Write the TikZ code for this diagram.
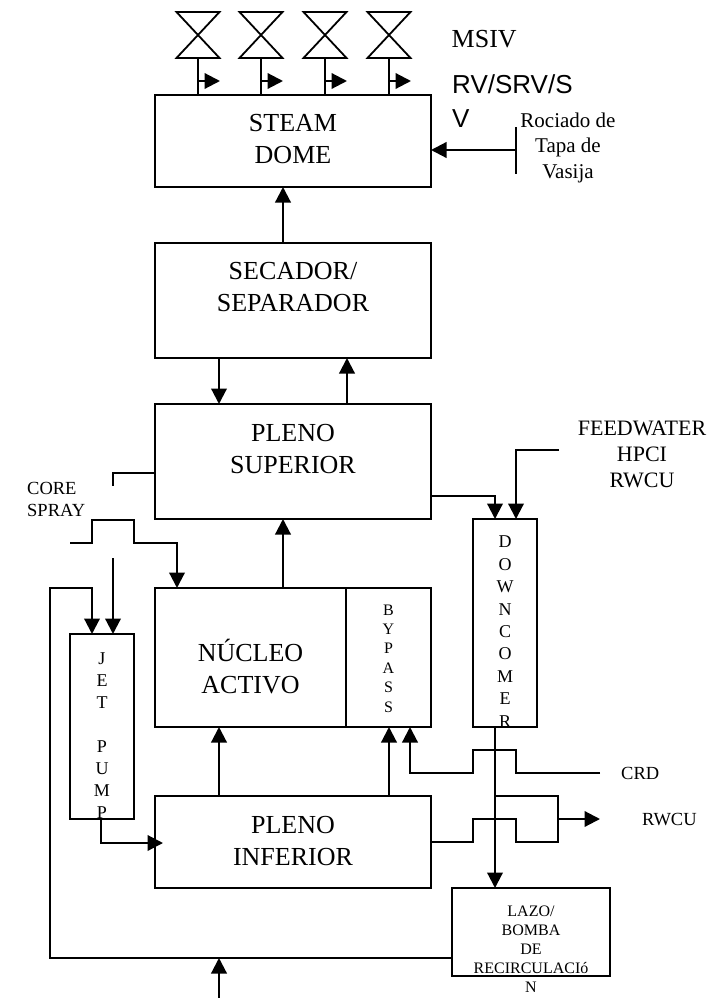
\documentclass[tikz,border=0pt]{standalone}
\usepackage{fontspec}
\setmainfont{Liberation Serif}
\newfontfamily\arialfont{Liberation Sans}
\usetikzlibrary{arrows.meta}
\newcommand{\blocktext}[2]{\raisebox{#1pt}[0pt][0pt]{\begin{tabular}[b]{@{}c@{}}#2\end{tabular}}}
\newcommand{\fs}[2]{\fontsize{#1}{#2}\selectfont}
\tikzset{
  blockbox/.style={draw,rectangle,inner sep=0pt,outer sep=0pt,line width=1.9pt,font=\fs{26}{32}},
  label26/.style={inner sep=0pt,anchor=base west,font=\fs{26}{32}},
  smalllabel/.style={inner sep=0pt,anchor=base west,font=\fs{18.5}{22}},
  flow/.style={line width=2.2pt},
  flowarrow/.style={line width=2.2pt,-{Triangle[length=15.5pt,width=15.5pt]}},
  valve/.style={line width=1.8pt,line join=miter},
}
\begin{document}
\begin{tikzpicture}[x=1pt,y=-1pt]
\useasboundingbox (0,0) rectangle (716,998);
% blocks
\node[blockbox,minimum width=276pt,minimum height=92pt] (dome) at (293,141) {\blocktext{-22}{STEAM\\DOME}};
\node[blockbox,minimum width=276pt,minimum height=115pt] (secador) at (293,300.5) {\blocktext{-10.5}{SECADOR/\\SEPARADOR}};
\node[blockbox,minimum width=276pt,minimum height=115pt] (psup) at (293,461.5) {\blocktext{-11.5}{PLENO\\SUPERIOR}};
\node[blockbox,minimum width=191pt,minimum height=139pt] (nucleo) at (250.5,657.5) {\blocktext{-35.5}{NÚCLEO\\ACTIVO}};
\node[blockbox,minimum width=85pt,minimum height=139pt,font=\fs{16}{19.4}] (bypass) at (388.5,657.5) {\blocktext{-54.5}{B\\Y\\P\\A\\S\\S}};
\node[blockbox,minimum width=276pt,minimum height=92pt] (pinf) at (293,842) {\blocktext{-23}{PLENO\\INFERIOR}};
\node[blockbox,minimum width=64pt,minimum height=185pt,font=\fs{18}{22}] (jet) at (102,726.5) {\blocktext{-91.5}{J\\E\\T\\{}\\P\\U\\M\\P}};
\node[blockbox,minimum width=64pt,minimum height=208pt,font=\fs{18}{22.4}] (down) at (505,623) {\blocktext{-104}{D\\O\\W\\N\\C\\O\\M\\E\\R}};
\node[blockbox,minimum width=158pt,minimum height=88pt,font=\fs{16}{19}] (lazo) at (531,932) {\blocktext{-60}{LAZO/\\BOMBA\\DE\\RECIRCULACIó\\N}};
% labels
\node[label26] (msiv) at (451.5,48) {MSIV};
\node[label26,font=\arialfont\fs{26}{34}] (rv1) at (452,93) {RV/SRV/S};
\node[label26,font=\arialfont\fs{26}{34}] (rv2) at (452,127) {V};
\node[inner sep=0pt,font=\fs{21}{25.5}] (rociado) at (568,152) {\blocktext{-26}{Rociado de\\Tapa de\\Vasija}};
\node[inner sep=0pt,font=\fs{22}{26}] (feed) at (642,461) {\blocktext{-26}{FEEDWATER\\HPCI\\RWCU}};
\node[inner sep=0pt,anchor=base west,font=\fs{18.5}{22},align=left] (core) at (27,516) {CORE\\SPRAY};
\node[smalllabel] (crd) at (621,779) {CRD};
\node[smalllabel] (rwcu) at (642,825) {RWCU};
% valves
\foreach \i/\vx in {1/198,2/261,3/325,4/389}{
  \draw[valve] (\vx-21.5,12) -- (\vx+21.5,12) -- (\vx-21.5,58) -- (\vx+21.5,58) -- cycle;
  \coordinate (v\i) at (\vx,58);
  \coordinate (t\i) at (\vx,81);
  \coordinate (h\i) at (\vx+22,81);
  \draw[flow] (v\i) -- (v\i |- dome.north);
  \draw[flowarrow] (t\i) -- (h\i);
}
% vertical chain
\draw[flowarrow] (secador.north -| 283,0) -- (dome.south -| 283,0);
\draw[flowarrow] (secador.south -| 219,0) -- (psup.north -| 219,0);
\draw[flowarrow] (psup.north -| 347,0) -- (secador.south -| 347,0);
\draw[flowarrow] (nucleo.north -| 283,0) -- (psup.south -| 283,0);
\draw[flowarrow] (pinf.north -| 219,0) -- (nucleo.south -| 219,0);
\draw[flowarrow] (pinf.north -| 389,0) -- (bypass.south -| 389,0);
% rociado
\coordinate (rocT) at (516,127);
\coordinate (rocB) at (516,174);
\coordinate (rocM) at (516,150);
\draw[flow] (rocT) -- (rocB);
\draw[flowarrow] (rocM) -- (rocM -| dome.east);
% pleno superior to jet pump (interrupted line)
\draw[flow] (psup.west |- 0,473) -- (113,473) -- (113,486);
\coordinate (gapEnd) at (113,558);
\draw[flowarrow] (gapEnd) -- (gapEnd |- jet.north);
% core spray
\coordinate (coreStart) at (70,543);
\draw[flowarrow] (coreStart) -- (92,543) -- (92,520) -- (134,520) -- (134,543) -- (177,543) -- (nucleo.north -| 177,0);
% recirculation loop
\draw[flowarrow] (lazo.west |- 0,958) -- (50,958) -- (50,588) -- (92,588) -- (jet.north -| 92,0);
\coordinate (botIn) at (219,998);
\draw[flowarrow] (botIn) -- (219,958);
% jet pump to lower plenum
\draw[flowarrow] (jet.south -| 101,0) -- (101,843) -- (163,843);
% to downcomer
\draw[flowarrow] (psup.east |- 0,496) -- (495,496) -- (down.north -| 495,0);
\coordinate (fwStart) at (559,450);
\draw[flowarrow] (fwStart) -- (516,450) -- (down.north -| 516,0);
% downcomer to loop
\draw[flowarrow] (down.south -| 495,0) -- (lazo.north -| 495,0);
% CRD
\coordinate (crdStart) at (600,773);
\draw[flowarrow] (crdStart) -- (516,773) -- (516,750) -- (473,750) -- (473,773) -- (410,773) -- (bypass.south -| 410,0);
% RWCU
\draw[flow] (pinf.east |- 0,842) -- (473,842) -- (473,819) -- (516,819) -- (516,842) -- (558,842) -- (558,796) -- (495,796);
\coordinate (rwcuBranch) at (558,819);
\coordinate (rwcuTip) at (600,819);
\draw[flowarrow] (rwcuBranch) -- (rwcuTip);
\end{tikzpicture}
\end{document}
